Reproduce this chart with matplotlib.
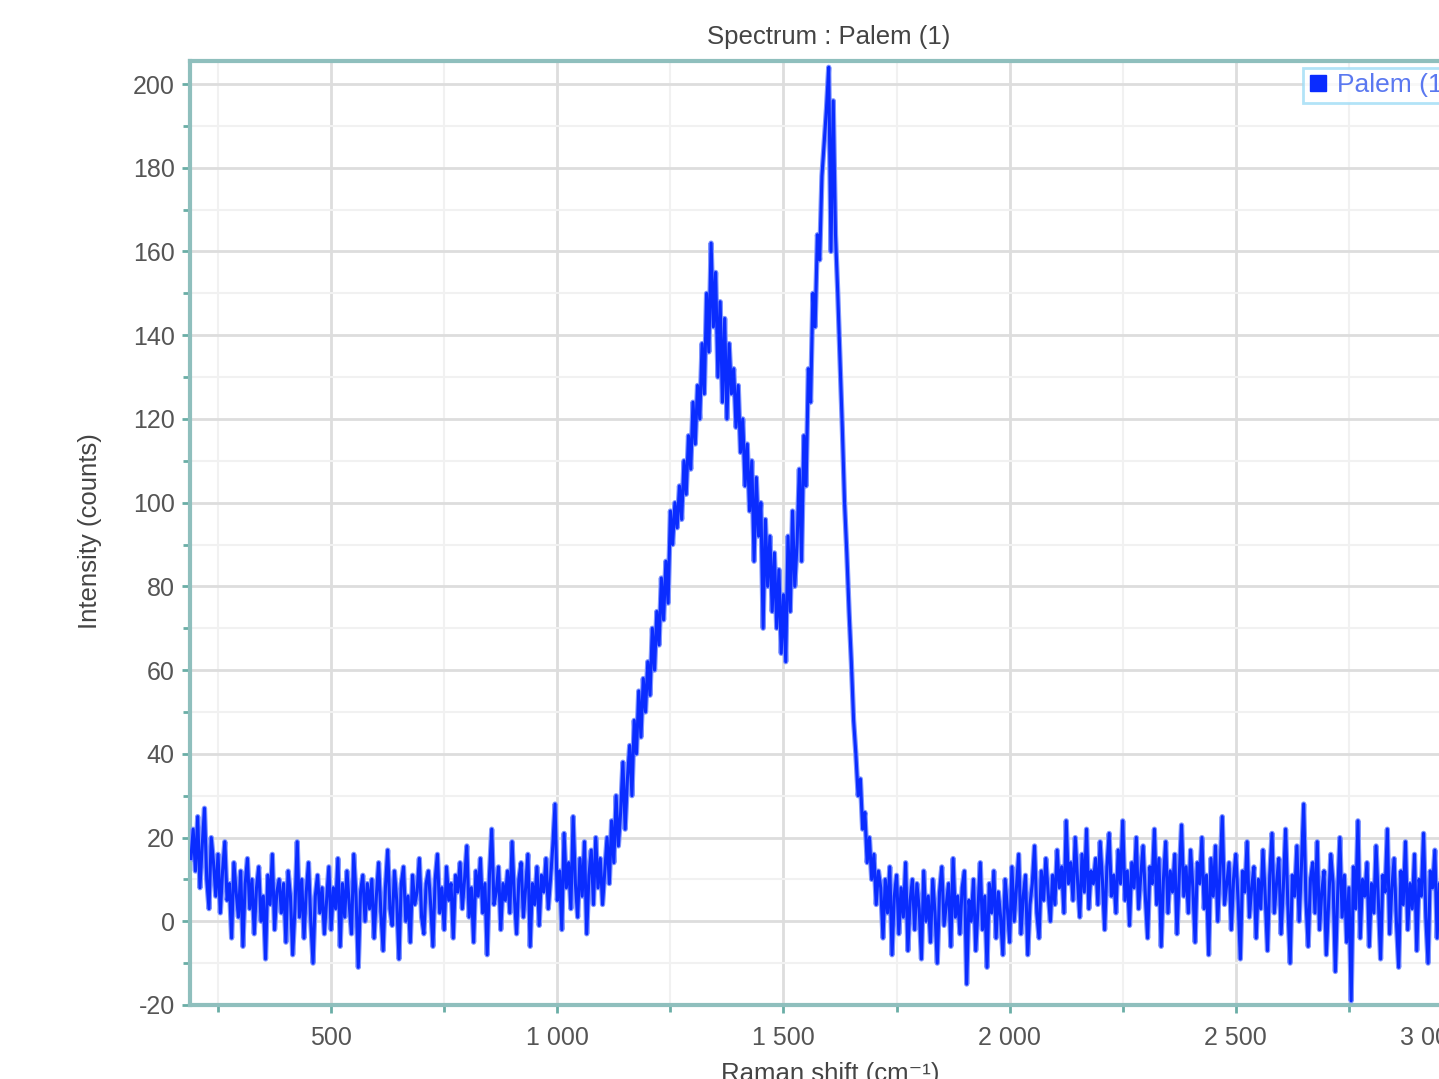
import numpy as np
import matplotlib
matplotlib.use("Agg")
import matplotlib.pyplot as plt
from matplotlib.lines import Line2D
from matplotlib.ticker import MultipleLocator, FixedLocator
from matplotlib.transforms import ScaledTranslation

plt.rcParams['font.family'] = ['Liberation Sans', 'DejaVu Sans']
plt.rcParams['axes.unicode_minus'] = False

# ---- data (Raman shift step 5 cm-1 from 190 to 3000) ----
shift_start = 190
shift_step = 5
intensity_rows = [
    [15, 22, 12, 25, 8, 18, 27, 10, 3, 20, 14, 6, 16, 2, 12, 19, 5, 9, -4, 14],
    [7, 1, 12, -6, 9, 15, 3, 10, -3, 8, 13, 0, 6, -9, 11, 4, 16, -2, 7, 10],
    [2, 9, -5, 12, 6, -8, 3, 19, 1, 10, -4, 7, 14, 0, -10, 6, 11, 2, 8, -3],
    [5, 13, -2, 8, 3, 15, -6, 9, 1, 12, 4, -3, 16, 6, -11, 7, 11, 0, 9, 3],
    [10, -4, 6, 14, 2, -7, 8, 17, 3, -1, 12, 5, -9, 9, 13, 0, 6, -5, 11, 4],
    [7, 15, 1, -3, 9, 12, 4, -6, 10, 16, 2, 8, -2, 13, 5, 9, -4, 11, 7, 14],
    [3, 10, 18, 1, 8, -5, 12, 6, 15, 2, 9, -8, 11, 22, 4, 7, 13, -2, 9, 5],
    [12, 2, 19, 6, -3, 10, 14, 1, 8, 16, -6, 9, 4, 13, -1, 11, 7, 15, 3, 10],
    [18, 28, 5, 12, -2, 21, 8, 14, 3, 25, 9, 1, 15, 6, 19, -3, 11, 17, 4, 20],
    [8, 15, 4, 12, 20, 9, 24, 14, 30, 18, 26, 38, 22, 34, 42, 30, 48, 40, 55, 44],
    [58, 50, 62, 54, 70, 60, 74, 66, 82, 72, 86, 76, 98, 90, 100, 94, 104, 96, 110, 102],
    [116, 108, 124, 114, 128, 120, 138, 126, 150, 136, 162, 142, 155, 130, 148, 124, 144, 120, 138, 126],
    [132, 118, 128, 112, 120, 104, 114, 98, 110, 86, 106, 92, 100, 70, 96, 80, 92, 74, 88, 70],
    [84, 64, 78, 62, 92, 74, 98, 80, 90, 108, 86, 116, 104, 132, 124, 150, 142, 164, 158, 178],
    [186, 194, 204, 160, 196, 164, 150, 134, 118, 100, 88, 74, 62, 48, 40, 30, 34, 22, 26, 14],
    [20, 10, 16, 4, 12, 8, -4, 10, 2, 13, -8, 6, 11, -3, 8, 1, 14, -7, 5, 10],
    [-2, 9, 3, -9, 12, 0, 6, -5, 10, 2, -10, 7, 13, -1, 4, 9, -6, 15, 1, 6],
    [-3, 8, 12, -15, 5, 0, 10, -7, 3, 14, -2, 6, -11, 9, 2, 12, -4, 7, 1, -8],
    [10, 3, -5, 13, 0, 8, 16, -3, 6, 11, -8, 4, 9, 18, 2, -4, 12, 5, 15, 7],
    [0, 11, 4, 17, 8, 13, 2, 24, 9, 14, 5, 20, 10, 1, 16, 7, 22, 3, 12, 9],
    [15, 4, 19, 10, -2, 13, 21, 6, 11, 2, 17, 9, 24, 5, 12, -1, 14, 8, 20, 3],
    [11, 18, 6, -4, 13, 9, 22, 4, 15, -6, 10, 19, 2, 12, 7, 16, -3, 11, 23, 6],
    [13, 2, 17, 8, -5, 14, 9, 20, 3, 11, -8, 15, 6, 18, 0, 12, 25, 4, 9, 14],
    [-2, 10, 16, 5, -9, 12, 7, 19, 1, 8, 13, -4, 10, 3, 17, 6, -7, 11, 21, 2],
    [9, 15, -3, 8, 22, 4, -10, 11, 6, 18, 0, 13, 28, 5, -6, 10, 14, 2, 19, -2],
    [7, 12, -8, 4, 16, 9, -12, 6, 20, 1, 11, -5, 8, -19, 13, 3, 24, -4, 10, 6],
    [14, -6, 9, 2, 18, 5, -9, 11, 7, 22, -3, 8, 15, 0, -11, 12, 4, 19, -2, 9],
    [3, 16, -7, 10, 6, 21, 1, -10, 12, 8, 17, -4, 9, 2, 14, -8, 11, 5, 19, 0],
    [7, 12, 4],
]
intensity = np.array([v for row in intensity_rows for v in row], dtype=float)
shift = shift_start + shift_step * np.arange(len(intensity))

x_ticks = [500, 1000, 1500, 2000, 2500, 3000]
x_tick_labels = ['500', '1 000', '1 500', '2 000', '2 500', '3 000']
y_ticks = [-20, 0, 20, 40, 60, 80, 100, 120, 140, 160, 180, 200]
series_name = 'Palem (1)'
title_text = 'Spectrum : Palem (1)'

# ---- figure ----
W, H = 1439, 1079
fig = plt.figure(figsize=(W / 100, H / 100), dpi=100)
ax_l, ax_r, ax_t, ax_b = 190, 1462, 61, 1005
ax = fig.add_axes([ax_l / W, (H - ax_b) / H, (ax_r - ax_l) / W, (ax_b - ax_t) / H])

line_col = '#0a2cff'
ax.plot(shift, intensity, color='#8096ff', lw=3.8, zorder=3)
ax.plot(shift, intensity, color=line_col, lw=2.2, zorder=4)

ax.set_xlim(188, 3000)
ax.set_ylim(-20, 205.5)

ax.xaxis.set_major_locator(FixedLocator(x_ticks))
ax.set_xticklabels(x_tick_labels)
ax.xaxis.set_minor_locator(MultipleLocator(250))
ax.yaxis.set_major_locator(FixedLocator(y_ticks))
ax.yaxis.set_minor_locator(MultipleLocator(10))

ax.grid(which='major', color='#dddddd', lw=2.0, zorder=0)
ax.grid(which='minor', color='#f1f1f1', lw=1.5, zorder=0)
ax.set_axisbelow(True)

spine_col = '#8fbfbd'
for s in ax.spines.values():
    s.set_color(spine_col)
    s.set_linewidth(3)
ax.tick_params(which='both', direction='out', color='#6aaea6', width=2,
               labelcolor='#555555', labelsize=18)
ax.tick_params(which='major', length=6)
ax.tick_params(axis='x', which='major', pad=9)
ax.tick_params(axis='y', which='major', pad=5)
ax.tick_params(which='minor', length=5)

# last x label is pushed left to stay within the axis end
last = ax.xaxis.get_major_ticks()[-1].label1
last.set_transform(last.get_transform() + ScaledTranslation(-0.31, 0, fig.dpi_scale_trans))

# title and axis labels
fig.text(829 / W, (H - 37) / H, title_text, ha='center', va='center',
         fontsize=18.5, color='#444444')
fig.text(90 / W, (H - 531) / H, 'Intensity (counts)', rotation=90,
         ha='center', va='center', fontsize=18.5, color='#444444')
fig.text(830 / W, (H - 1074) / H, 'Raman shift (cm\u207b\u00b9)', ha='center',
         va='center', fontsize=18.5, color='#444444')

# legend
handle = Line2D([], [], marker='s', color=line_col, linestyle='none', markersize=11)
leg = ax.legend([handle], [series_name], loc='upper right',
                bbox_to_anchor=(1.0, 0.998), frameon=True, fancybox=False,
                fontsize=19, handletextpad=0.3, borderpad=0.2,
                handlelength=0.8, borderaxespad=0.2)
leg.get_frame().set_edgecolor('#9fdcf6')
leg.get_frame().set_linewidth(2)
for t in leg.get_texts():
    t.set_color('#5a78f0')

fig.savefig('out.png', dpi=100)
